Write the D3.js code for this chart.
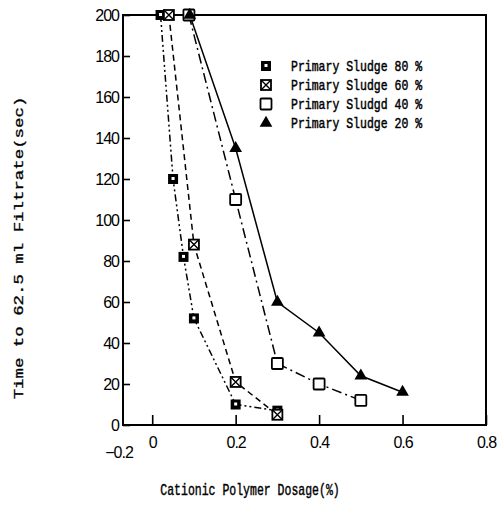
<!DOCTYPE html>
<html>
<head>
<meta charset="utf-8">
<script src="https://cdn.jsdelivr.net/npm/d3@7"></script>
<style>
  html, body { margin: 0; padding: 0; background: #fff; }
  svg { display: block; }
</style>
</head>
<body>
<svg id="chart" width="498" height="506"></svg>
<script>
// ---- data ----
const seriesNames = ["Primary Sludge 80 %", "Primary Sludge 60 %", "Primary Sludgd 40 %", "Primary Sludge 20 %"];
const s80 = [[0.02, 200], [0.05, 120], [0.075, 82], [0.1, 52], [0.2, 10], [0.3, 7]];
const s60 = [[0.04, 200], [0.1, 88], [0.2, 21], [0.3, 5]];
const s40 = [[0.088, 200], [0.2, 110], [0.3, 30], [0.4, 20], [0.5, 12]];
const s20 = [[0.09, 200], [0.2, 135], [0.3, 60], [0.4, 45], [0.5, 24], [0.6, 16]];
const xTickValues = [0, 0.2, 0.4, 0.6, 0.8];
const xTickLabels = ["0", "0.2", "0.4", "0.6", "0.8"];
const xFirstLabel = "\u22120.2";
const yTickValues = [0, 20, 40, 60, 80, 100, 120, 140, 160, 180, 200];
const xTitle = "Cationic Polymer Dosage(%)";
const yTitle = "Time to 62.5 ml Filtrate(sec)";

const svg = d3.select("#chart");
const x = d3.scaleLinear().domain([-0.07, 0.8]).range([123, 486]);
const y = d3.scaleLinear().domain([0, 200]).range([425, 15]);

const series = [
  { name: seriesNames[0], data: s80, dash: "7,3,2,3,2,3", marker: "fsq" },
  { name: seriesNames[1], data: s60, dash: "6,4", marker: "xsq" },
  { name: seriesNames[2], data: s40, dash: "10,4,2,4", marker: "osq" },
  { name: seriesNames[3], data: s20, dash: null, marker: "tri" }
];

const monoFont = "Liberation Mono, Courier New, monospace";
const sansFont = "Liberation Sans, Arial, sans-serif";

// frame
const g = svg.append("g");
const [x0, x1] = x.range();
const [yb, yt] = y.range();
g.append("path")
  .attr("d", `M${x0},${yt}L${x1},${yt}L${x1},${yb}L${x0},${yb}Z`)
  .attr("fill", "none").attr("stroke", "#000").attr("stroke-width", 2);

// x axis (ticks inward)
const xAxis = d3.axisBottom(x).tickValues(xTickValues).tickSize(-10).tickPadding(12)
  .tickFormat((d, i) => xTickLabels[i]);
const gx = g.append("g").attr("transform", `translate(0,${yb})`).call(xAxis);
gx.select(".domain").remove();
gx.selectAll(".tick line").attr("stroke", "#000").attr("stroke-width", 1.6);
gx.selectAll(".tick text")
  .attr("font-family", sansFont)
  .attr("font-size", 16).attr("letter-spacing", -1).attr("fill", "#000");
gx.append("text").attr("x", x0 - 4).attr("y", 22).attr("dy", "0.71em")
  .attr("text-anchor", "middle")
  .attr("font-family", sansFont)
  .attr("font-size", 16).attr("letter-spacing", -1).attr("fill", "#000")
  .text(xFirstLabel);

// y axis (ticks inward)
const yAxis = d3.axisLeft(y).tickValues(yTickValues).tickSize(-7).tickPadding(4);
const gy = g.append("g").attr("transform", `translate(${x0},0)`).call(yAxis);
gy.select(".domain").remove();
gy.selectAll(".tick line").attr("stroke", "#000").attr("stroke-width", 1.6);
gy.selectAll(".tick text")
  .attr("font-family", sansFont)
  .attr("font-size", 16).attr("letter-spacing", -1).attr("fill", "#000");

// lines
const line = d3.line().x(d => x(d[0])).y(d => y(d[1]));
series.forEach(s => {
  g.append("path").datum(s.data).attr("d", line)
    .attr("fill", "none").attr("stroke", "#000").attr("stroke-width", 1.5)
    .attr("stroke-dasharray", s.dash);
});

// markers
function drawMarker(sel, type, cx, cy) {
  const m = sel.append("g").attr("transform", `translate(${cx},${cy})`);
  if (type === "fsq") {
    m.append("rect").attr("x", -5).attr("y", -5).attr("width", 10).attr("height", 10).attr("fill", "#000");
    m.append("rect").attr("x", -1.5).attr("y", -2).attr("width", 3).attr("height", 3).attr("fill", "#fff");
  } else if (type === "xsq") {
    m.append("rect").attr("x", -5).attr("y", -5).attr("width", 10).attr("height", 10)
      .attr("fill", "#fff").attr("stroke", "#000").attr("stroke-width", 1.8);
    m.append("path").attr("d", "M-5,-5L5,5M5,-5L-5,5").attr("stroke", "#000").attr("stroke-width", 1.4);
  } else if (type === "osq") {
    m.append("rect").attr("x", -5.5).attr("y", -5.5).attr("width", 11).attr("height", 11).attr("rx", 1)
      .attr("fill", "#fff").attr("stroke", "#000").attr("stroke-width", 1.8);
  } else {
    m.append("path").attr("d", d3.symbol(d3.symbolTriangle, 70)()).attr("fill", "#000");
  }
}
series.forEach(s => {
  s.data.forEach(d => drawMarker(g, s.marker, x(d[0]), y(d[1])));
});

// legend
const legRows = [66, 85, 104, 123];
series.forEach((s, i) => {
  drawMarker(g, s.marker, 266, legRows[i]);
  g.append("text").attr("transform", `translate(291,${legRows[i] + 5}) scale(1,1.35)`)
    .attr("font-family", monoFont)
    .attr("font-size", 11.5).attr("fill", "#000")
    .attr("stroke", "#000").attr("stroke-width", 0.35)
    .text(s.name);
});

// titles
svg.append("text").attr("transform", "translate(250,495) scale(1,1.4)").attr("text-anchor", "middle")
  .attr("font-family", monoFont)
  .attr("font-size", 11.5).attr("fill", "#000")
  .attr("stroke", "#000").attr("stroke-width", 0.3)
  .text(xTitle);
svg.append("text").attr("transform", "translate(23,248) scale(1,1.45) rotate(-90)").attr("text-anchor", "middle")
  .attr("font-family", monoFont)
  .attr("font-size", 12).attr("fill", "#000")
  .attr("stroke", "#000").attr("stroke-width", 0.3)
  .text(yTitle);
</script>
</body>
</html>
